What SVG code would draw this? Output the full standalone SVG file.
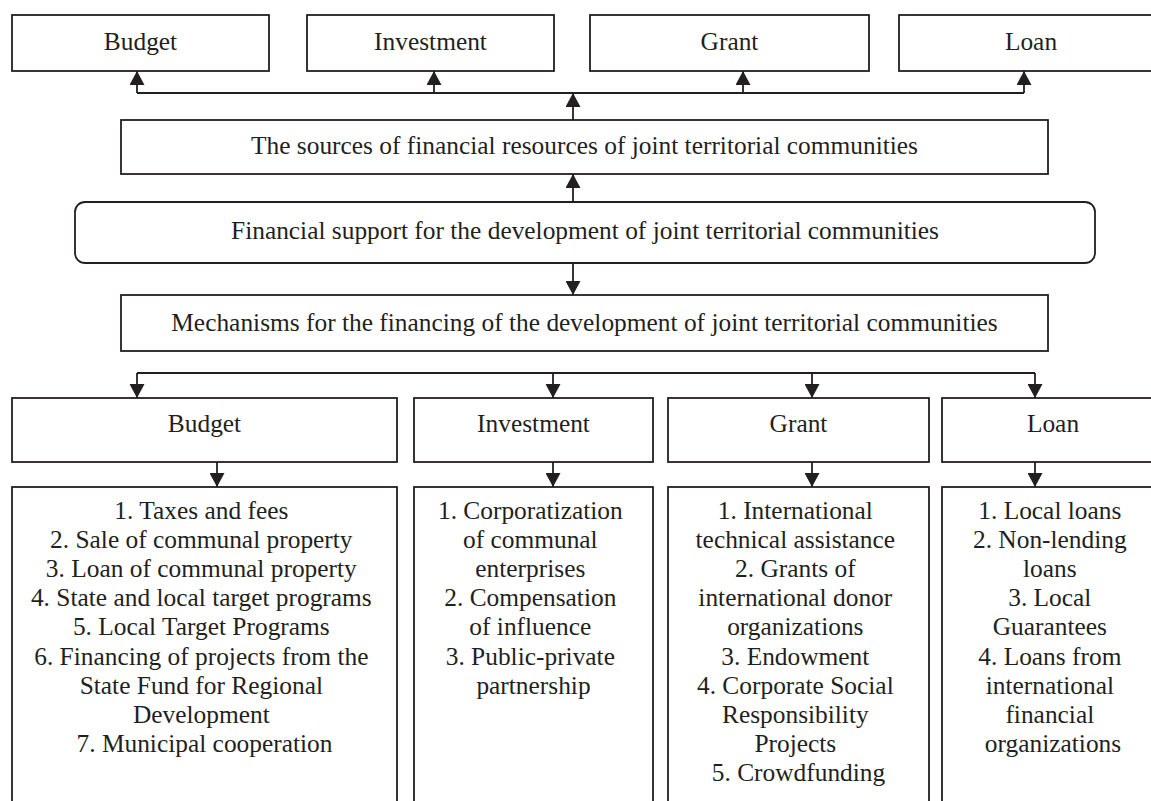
<svg xmlns="http://www.w3.org/2000/svg" width="1151" height="801" viewBox="0 0 1151 801">
<defs>
<style>
.box{fill:#fff;stroke:#231f20;stroke-width:1.8}
.t{font-family:'Liberation Serif','Times New Roman',Times,serif;font-size:25.4px;fill:#231f20;text-anchor:middle}
.c{fill:none;stroke:#231f20;stroke-width:1.8}
</style>
<marker id="ah" markerUnits="userSpaceOnUse" markerWidth="14" markerHeight="15" viewBox="0 0 14 15" refX="14" refY="7.5" orient="auto">
<path d="M0,0 L14,7.5 L0,15 z" fill="#231f20"/>
</marker>
</defs>
<rect width="1151" height="801" fill="#fff"/>

<g id="connectors">
<path class="c" d="M137,93 L1024,93"/>
<path class="c" d="M573,120 L573,93" marker-end="url(#ah)"/>
<path class="c" d="M137,93 L137,71" marker-end="url(#ah)"/>
<path class="c" d="M434,93 L434,71" marker-end="url(#ah)"/>
<path class="c" d="M743,93 L743,71" marker-end="url(#ah)"/>
<path class="c" d="M1024,93 L1024,71" marker-end="url(#ah)"/>
<path class="c" d="M573,202 L573,174" marker-end="url(#ah)"/>
<path class="c" d="M573,263 L573,295" marker-end="url(#ah)"/>
<path class="c" d="M137,373 L1035,373"/>
<path class="c" d="M137,373 L137,398" marker-end="url(#ah)"/>
<path class="c" d="M553,373 L553,398" marker-end="url(#ah)"/>
<path class="c" d="M812,373 L812,398" marker-end="url(#ah)"/>
<path class="c" d="M1035,373 L1035,398" marker-end="url(#ah)"/>
<path class="c" d="M217,462 L217,487" marker-end="url(#ah)"/>
<path class="c" d="M553,462 L553,487" marker-end="url(#ah)"/>
<path class="c" d="M812,462 L812,487" marker-end="url(#ah)"/>
<path class="c" d="M1035,462 L1035,487" marker-end="url(#ah)"/>
</g>

<g font-family="Liberation Serif, Times New Roman, serif">
<g id="top-budget"><rect class="box" x="12" y="15" width="257" height="56"/><text class="t" x="140.5" y="49.5">Budget</text></g>
<g id="top-investment"><rect class="box" x="307" y="15" width="247" height="56"/><text class="t" x="430.5" y="49.5">Investment</text></g>
<g id="top-grant"><rect class="box" x="590" y="15" width="279" height="56"/><text class="t" x="729.5" y="49.5">Grant</text></g>
<g id="top-loan"><rect class="box" x="899" y="15" width="264" height="56"/><text class="t" x="1031" y="49.5">Loan</text></g>

<g id="sources"><rect class="box" x="121" y="120" width="927" height="54"/><text class="t" x="584.5" y="154">The sources of financial resources of joint territorial communities</text></g>
<g id="support"><rect class="box" x="75" y="202" width="1020" height="61" rx="10" ry="10"/><text class="t" x="585" y="239">Financial support for the development of joint territorial communities</text></g>
<g id="mechanisms"><rect class="box" x="121" y="295" width="927" height="56"/><text class="t" x="584.5" y="331">Mechanisms for the financing of the development of joint territorial communities</text></g>

<g id="budget"><rect class="box" x="12" y="398" width="385" height="64"/><text class="t" x="204.5" y="432">Budget</text></g>
<g id="investment"><rect class="box" x="414" y="398" width="239" height="64"/><text class="t" x="533.5" y="432">Investment</text></g>
<g id="grant"><rect class="box" x="668" y="398" width="261" height="64"/><text class="t" x="798.5" y="432">Grant</text></g>
<g id="loan"><rect class="box" x="942" y="398" width="222" height="64"/><text class="t" x="1053" y="432">Loan</text></g>

<g id="budget-list"><rect class="box" x="12" y="487" width="385" height="330"/>
<text class="t">
<tspan x="204.5" y="519">1. Taxes and fees</tspan>
<tspan x="204.5" y="548.1">2. Sale of communal property</tspan>
<tspan x="204.5" y="577.2">3. Loan of communal property</tspan>
<tspan x="204.5" y="606.3">4. State and local target programs</tspan>
<tspan x="204.5" y="635.4">5. Local Target Programs</tspan>
<tspan x="204.5" y="664.5">6. Financing of projects from the</tspan>
<tspan x="204.5" y="693.6">State Fund for Regional</tspan>
<tspan x="204.5" y="722.7">Development</tspan>
<tspan x="204.5" y="751.8">7. Municipal cooperation</tspan>
</text></g>

<g id="investment-list"><rect class="box" x="414" y="487" width="239" height="330"/>
<text class="t">
<tspan x="533.5" y="519">1. Corporatization</tspan>
<tspan x="533.5" y="548.1">of communal</tspan>
<tspan x="533.5" y="577.2">enterprises</tspan>
<tspan x="533.5" y="606.3">2. Compensation</tspan>
<tspan x="533.5" y="635.4">of influence</tspan>
<tspan x="533.5" y="664.5">3. Public-private</tspan>
<tspan x="533.5" y="693.6">partnership</tspan>
</text></g>

<g id="grant-list"><rect class="box" x="668" y="487" width="261" height="330"/>
<text class="t">
<tspan x="798.5" y="519">1. International</tspan>
<tspan x="798.5" y="548.1">technical assistance</tspan>
<tspan x="798.5" y="577.2">2. Grants of</tspan>
<tspan x="798.5" y="606.3">international donor</tspan>
<tspan x="798.5" y="635.4">organizations</tspan>
<tspan x="798.5" y="664.5">3. Endowment</tspan>
<tspan x="798.5" y="693.6">4. Corporate Social</tspan>
<tspan x="798.5" y="722.7">Responsibility</tspan>
<tspan x="798.5" y="751.8">Projects</tspan>
<tspan x="798.5" y="780.9">5. Crowdfunding</tspan>
</text></g>

<g id="loan-list"><rect class="box" x="942" y="487" width="222" height="330"/>
<text class="t">
<tspan x="1053" y="519">1. Local loans</tspan>
<tspan x="1053" y="548.1">2. Non-lending</tspan>
<tspan x="1053" y="577.2">loans</tspan>
<tspan x="1053" y="606.3">3. Local</tspan>
<tspan x="1053" y="635.4">Guarantees</tspan>
<tspan x="1053" y="664.5">4. Loans from</tspan>
<tspan x="1053" y="693.6">international</tspan>
<tspan x="1053" y="722.7">financial</tspan>
<tspan x="1053" y="751.8">organizations</tspan>
</text></g>
</g>
</svg>
